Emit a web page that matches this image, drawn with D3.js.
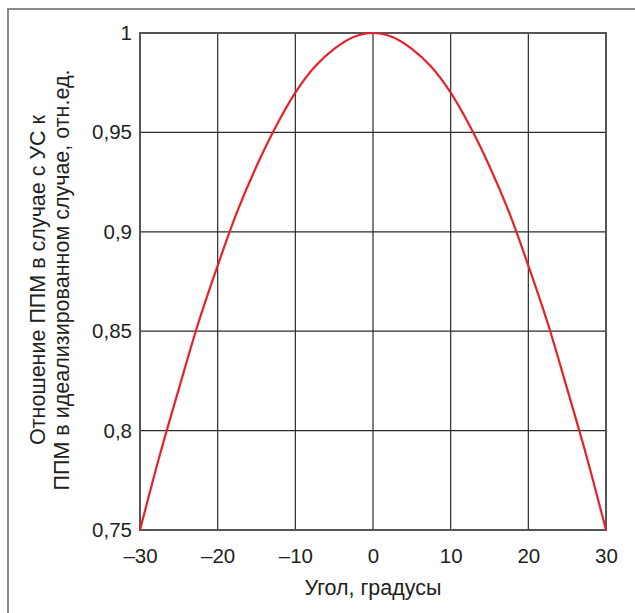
<!DOCTYPE html>
<html><head><meta charset="utf-8">
<script src="https://cdn.jsdelivr.net/npm/d3@7"></script>
<style>
html,body{margin:0;padding:0;background:#fff;}
svg{display:block;}
text{font-family:"Liberation Sans",Arial,sans-serif;fill:#231f20;}
</style></head>
<body>
<svg id="chart" width="635" height="613"></svg>
<script>
// Data
const angles = [-30,-27.5,-25,-22.5,-20,-17.5,-15,-12.5,-10,-7.5,-5,-2.5,0,2.5,5,7.5,10,12.5,15,17.5,20,22.5,25,27.5,30];
const ratio  = [0.75,0.787,0.821,0.854,0.883,0.910,0.933,0.953,0.970,0.983,0.992,0.998,1.0,0.998,0.992,0.983,0.970,0.953,0.933,0.910,0.883,0.854,0.821,0.787,0.75];
const xTicks = [-30,-20,-10,0,10,20,30];
const xTickLabels = ["\u201330","\u201320","\u201310","0","10","20","30"];
const yTicks = [0.75,0.8,0.85,0.9,0.95,1];
const yTickLabels = ["0,75","0,8","0,85","0,9","0,95","1"];
const yTitle = ["Отношение ППМ в случае с УС к","ППМ в идеализированном случае, отн.ед."];
const xTitle = "Угол, градусы";

const svg = d3.select("#chart");
const L = 140, R = 606, T = 33, B = 530;
const x = d3.scaleLinear().domain([-30,30]).range([L,R]);
const y = d3.scaleLinear().domain([0.75,1]).range([B,T]);

// outer frame
svg.append("rect").attr("x",8).attr("y",9).attr("width",640).attr("height",620)
  .attr("fill","none").attr("stroke","#8a8a8a").attr("stroke-width",2);

// grid
const grid = svg.append("g");
grid.selectAll("line.v").data(xTicks.slice(1,-1)).join("line")
  .attr("x1",d=>x(d)).attr("x2",d=>x(d)).attr("y1",T).attr("y2",B)
  .attr("stroke","#2b2b2b").attr("stroke-width",1.2);
grid.selectAll("line.h").data(yTicks.slice(1,-1)).join("line")
  .attr("y1",d=>y(d)).attr("y2",d=>y(d)).attr("x1",L).attr("x2",R)
  .attr("stroke","#2b2b2b").attr("stroke-width",1.2);

// plot border
svg.append("rect").attr("x",L).attr("y",T).attr("width",R-L).attr("height",B-T)
  .attr("fill","none").attr("stroke","#555").attr("stroke-width",2);

// axes via d3
const xAxis = d3.axisBottom(x).tickValues(xTicks).tickSize(0).tickPadding(18)
  .tickFormat((d,i)=>xTickLabels[i]);
const gx = svg.append("g").attr("transform",`translate(0,${B})`).call(xAxis);
gx.select(".domain").remove();
gx.selectAll("text").attr("font-size",null).style("font-size","20.5px").style("font-family","'Liberation Sans',Arial,sans-serif").attr("fill","#231f20");
gx.attr("font-size",null).attr("font-family",null);

const yAxis = d3.axisLeft(y).tickValues(yTicks).tickSize(0).tickPadding(8)
  .tickFormat((d,i)=>yTickLabels[i]);
const gy = svg.append("g").attr("transform",`translate(${L},0)`).call(yAxis);
gy.select(".domain").remove();
gy.selectAll("text").style("font-size","20.5px").style("font-family","'Liberation Sans',Arial,sans-serif").attr("fill","#231f20");
gy.attr("font-size",null).attr("font-family",null);

// curve
const line = d3.line().x((d,i)=>x(angles[i])).y(d=>y(d)).curve(d3.curveCatmullRom);
svg.append("path").datum(ratio).attr("d",line)
  .attr("fill","none").attr("stroke","#e8202a").attr("stroke-width",2.2);

// titles
svg.append("text").attr("x",(L+R)/2).attr("y",595).attr("text-anchor","middle")
  .style("font-size","21.5px").text(xTitle);
const yt = svg.append("text").attr("transform",`translate(0,280) rotate(-90)`)
  .attr("text-anchor","middle").style("font-size","21.5px");
yt.append("tspan").attr("x",0).attr("y",45).text(yTitle[0]);
yt.append("tspan").attr("x",0).attr("y",69).text(yTitle[1]);
</script>
</body></html>
